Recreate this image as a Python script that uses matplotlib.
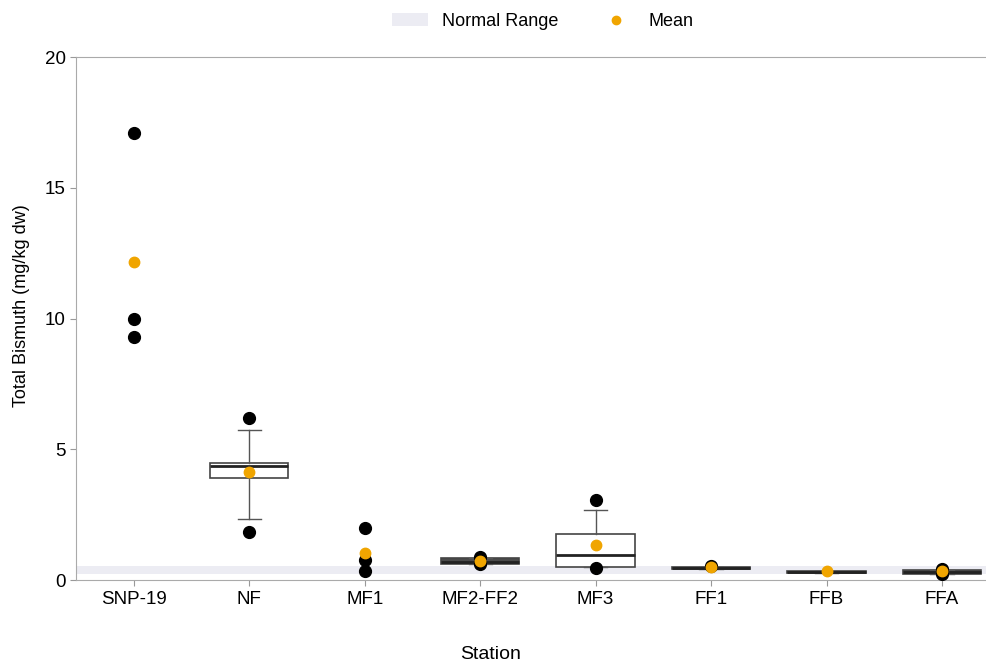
import matplotlib
matplotlib.use("Agg")
import matplotlib.pyplot as plt
from matplotlib.patches import Patch
from matplotlib.lines import Line2D

plt.rcParams['font.family'] = ['Liberation Sans', 'DejaVu Sans']

stations = ["SNP-19", "NF", "MF1", "MF2-FF2", "MF3", "FF1", "FFB", "FFA"]
# box stats (None = no box drawn)
q1 = [None, 3.92, None, 0.60, 0.50, 0.41, 0.29, 0.22]
med = [None, 4.36, None, 0.70, 0.96, 0.45, 0.32, 0.32]
q3 = [None, 4.47, None, 0.84, 1.76, 0.49, 0.35, 0.40]
whislo = [None, 2.33, None, 0.60, 0.50, 0.41, 0.29, 0.22]
whishi = [None, 5.74, None, 0.84, 2.68, 0.49, 0.35, 0.40]
points = [[17.1, 10.0, 9.3], [6.19, 1.84], [1.99, 0.78, 0.34], [0.88, 0.62],
          [3.06, 0.46], [0.55], [], [0.42, 0.25]]
means = [12.15, 4.13, 1.05, 0.72, 1.34, 0.50, 0.33, 0.35]
normal_range = (0.25, 0.55)

fig = plt.figure(figsize=(9.87, 6.63), dpi=100)
ax = fig.add_axes([0.077, 0.125, 0.923, 0.789])

ax.axhspan(normal_range[0], normal_range[1], color="#ECECF3", zorder=0, lw=0)

stats = []
pos = []
for i in range(len(stations)):
    if q1[i] is None:
        continue
    stats.append(dict(med=med[i], q1=q1[i], q3=q3[i], whislo=whislo[i],
                      whishi=whishi[i], fliers=[]))
    pos.append(i)
bp = ax.bxp(stats, positions=pos, widths=0.68, showfliers=False, patch_artist=True,
            boxprops=dict(facecolor="white", edgecolor="#444444", linewidth=1.2),
            medianprops=dict(color="#222222", linewidth=2),
            whiskerprops=dict(color="#555555", linewidth=1),
            capprops=dict(color="#555555", linewidth=1), capwidths=0.2,
            manage_ticks=False, zorder=2)
for box, st in zip(bp["boxes"], stats):
    if st["q3"] - st["q1"] < 0.3:
        box.set_facecolor("#4a4a4a")

for i, pts in enumerate(points):
    if pts:
        ax.plot([i] * len(pts), pts, "o", color="black", ms=8.5, zorder=3, ls="none")
ax.plot(range(len(stations)), means, "o", color="#F0A500", ms=7.5, zorder=4, ls="none")

ax.set_xlim(-0.5, 7.39)
ax.set_ylim(0, 20)
ax.set_yticks([0, 5, 10, 15, 20])
ax.set_xticks(range(len(stations)))
ax.set_xticklabels(stations)
ax.tick_params(labelsize=13.5, color="#999999", length=4)
for s in ["left", "bottom", "top"]:
    ax.spines[s].set_color("#AAAAAA")
ax.spines["right"].set_visible(False)
ax.set_xlabel("Station", fontsize=14)
ax.xaxis.set_label_coords(0.455, -0.125)
ax.set_ylabel("Total Bismuth (mg/kg dw)", fontsize=13)
ax.yaxis.set_label_coords(-0.050, 0.525)

handles = [Patch(facecolor="#ECECF3", edgecolor="none", label="Normal Range"),
           Line2D([], [], marker="o", color="#F0A500", ls="none", ms=6, label="Mean")]
fig.legend(handles=handles, loc="upper center", bbox_to_anchor=(0.55, 1.005), ncol=2,
           frameon=False, fontsize=13, handlelength=2, columnspacing=2.2)

fig.savefig("out.png", dpi=100)
